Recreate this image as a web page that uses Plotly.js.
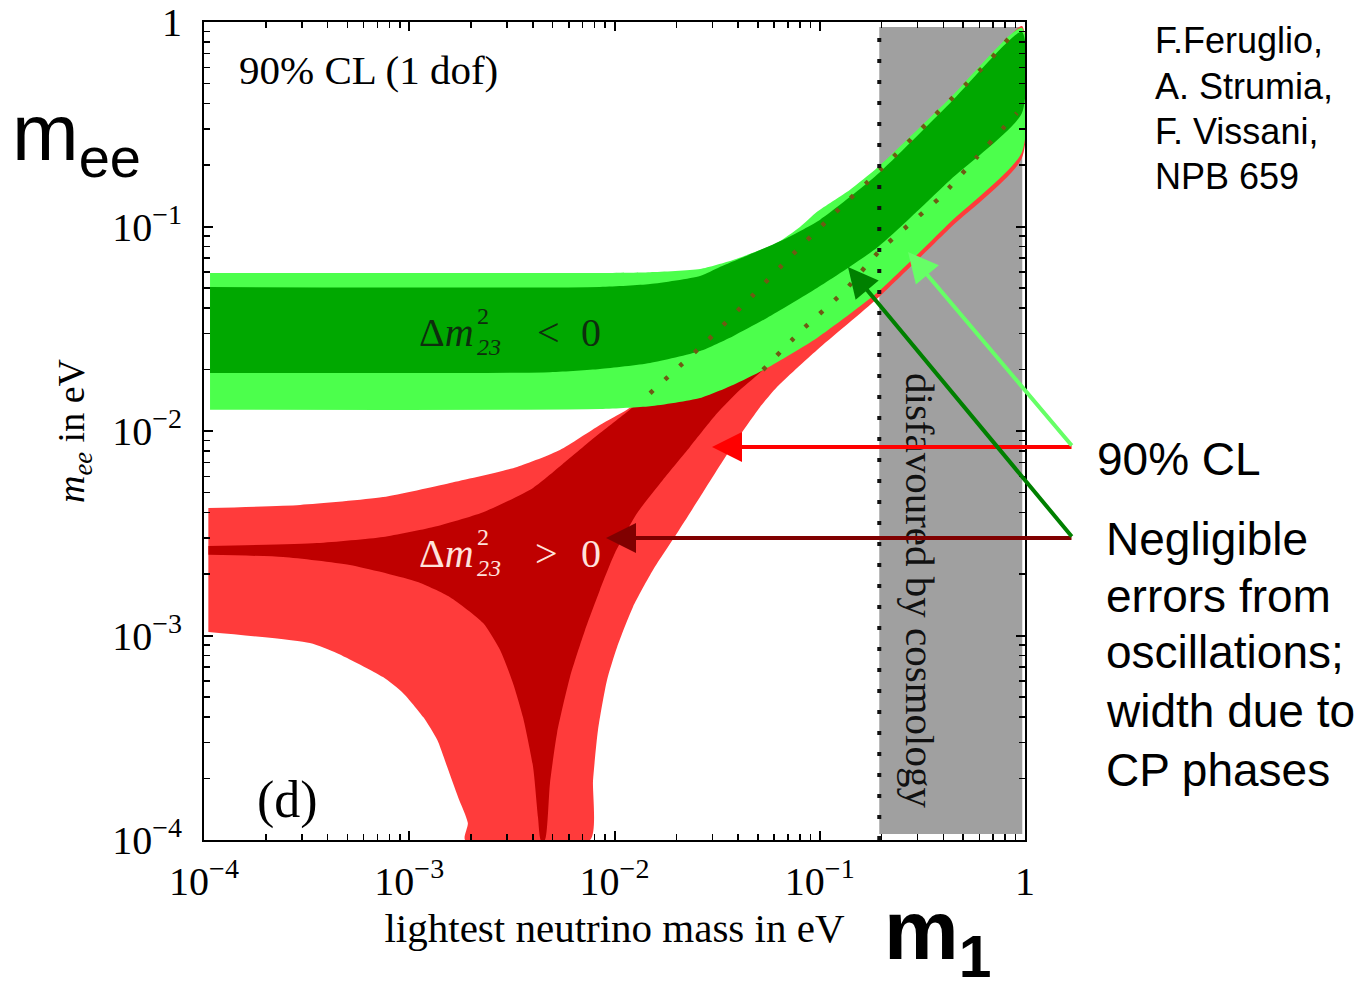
<!DOCTYPE html>
<html><head><meta charset="utf-8">
<script src="https://cdn.plot.ly/plotly-3.0.1.min.js"></script>
<style>html,body{margin:0;padding:0;background:#fff}#chart{width:1368px;height:991px}</style>
</head><body><div id="chart"></div>
<script>
// ---------------- data (values in eV) ----------------
// Inverted hierarchy (Δm²23 < 0): outer 90% CL band (light green)
const ihOuterUpX = [1.07e-4, 8.49e-3, 1.49e-2, 2.61e-2, 3.78e-2, 5.12e-2, 6.19e-2, 8.01e-2, 9.70e-2, 0.140, 0.190, 0.432, 0.966];
const ihOuterUp  = [0.0593, 0.0593, 0.0598, 0.0620, 0.0686, 0.0767, 0.0830, 0.0994, 0.118, 0.151, 0.193, 0.425, 0.935];
const ihOuterLoX = [1.07e-4, 8.49e-3, 1.49e-2, 2.61e-2, 3.78e-2, 5.53e-2, 9.70e-2, 0.192, 0.432, 0.966];
const ihOuterLo  = [0.0127, 0.0128, 0.0132, 0.0145, 0.0168, 0.0203, 0.0285, 0.0478, 0.105, 0.231];
// Inverted hierarchy: best-fit band, width from CP phases (dark green)
const ihInnerUpX = [1.07e-4, 8.49e-3, 1.49e-2, 2.61e-2, 3.26e-2, 4.73e-2, 6.92e-2, 0.1004, 0.190, 0.432, 0.966];
const ihInnerUp  = [0.0506, 0.0506, 0.0523, 0.0573, 0.0634, 0.0741, 0.0879, 0.108, 0.179, 0.402, 0.894];
const ihInnerLoX = [1.07e-4, 4.85e-3, 8.49e-3, 1.49e-2, 2.61e-2, 3.78e-2, 5.53e-2, 9.70e-2, 0.192, 0.432, 0.966];
const ihInnerLo  = [0.0192, 0.0194, 0.0201, 0.0215, 0.0246, 0.0291, 0.0357, 0.0500, 0.0794, 0.169, 0.359];

// Normal hierarchy (Δm²23 > 0): outer 90% CL region (light red)
const nhOuterUpX  = [1.05e-4, 2.94e-4, 7.45e-4, 1.58e-3, 3.35e-3, 5.42e-3, 8.49e-3, 1.15e-2, 1.49e-2, 3.02e-2, 4.73e-2, 7.16e-2, 0.116, 0.197, 0.357, 0.653, 0.966];
const nhOuterUp   = [0.00420, 0.00435, 0.00475, 0.00557, 0.00667, 0.00807, 0.0107, 0.0127, 0.0153, 0.0294, 0.0462, 0.0709, 0.114, 0.189, 0.343, 0.630, 0.956];
const nhOuterLoRX = [7.60e-3, 7.86e-3, 8.31e-3, 9.19e-3, 1.03e-2, 1.23e-2, 1.54e-2, 2.02e-2, 2.61e-2, 3.65e-2, 5.12e-2, 6.19e-2, 9.70e-2, 0.192, 0.432, 0.966];
const nhOuterLoR  = [1.0e-4, 1.96e-4, 3.45e-4, 6.05e-4, 8.79e-4, 1.38e-3, 2.09e-3, 3.17e-3, 4.75e-3, 8.07e-3, 1.31e-2, 1.64e-2, 2.49e-2, 4.47e-2, 9.84e-2, 0.216];
const nhOuterLoLX = [1.05e-4, 3.28e-4, 4.45e-4, 7.45e-4, 9.32e-4, 1.17e-3, 1.37e-3, 1.53e-3, 1.73e-3, 1.93e-3, 1.87e-3];
const nhOuterLoL  = [1.04e-3, 9.19e-4, 8.20e-4, 6.26e-4, 5.24e-4, 3.99e-4, 3.08e-4, 2.28e-4, 1.62e-4, 1.21e-4, 1.0e-4];
// Normal hierarchy: best-fit region (dark red)
const nhInnerUpX  = [1.05e-4, 3.55e-4, 7.45e-4, 1.31e-3, 2.29e-3, 4.01e-3, 5.74e-3, 8.04e-3, 1.15e-2, 1.49e-2, 3.02e-2, 4.73e-2, 7.16e-2, 0.116, 0.197, 0.357, 0.653, 0.966];
const nhInnerUp   = [0.00274, 0.00283, 0.00303, 0.00339, 0.00401, 0.00527, 0.00705, 0.00935, 0.0124, 0.0153, 0.0294, 0.0462, 0.0709, 0.114, 0.189, 0.343, 0.630, 0.914];
const nhInnerLoRX = [4.58e-3, 4.85e-3, 5.25e-3, 6.07e-3, 7.18e-3, 8.49e-3, 1.005e-2, 1.29e-2, 1.72e-2, 2.33e-2, 3.16e-2, 4.09e-2, 5.29e-2, 8.01e-2, 0.133, 0.197, 0.386, 0.584, 0.966];
const nhInnerLoR  = [1.0e-4, 1.90e-4, 3.34e-4, 6.26e-4, 1.06e-3, 1.67e-3, 2.53e-3, 3.97e-3, 5.76e-3, 8.35e-3, 1.22e-2, 1.59e-2, 1.99e-2, 3.05e-2, 4.89e-2, 7.67e-2, 0.139, 0.219, 0.359];
const nhInnerLoLX = [1.05e-4, 2.43e-4, 5.14e-4, 1.09e-3, 1.58e-3, 2.29e-3, 2.77e-3, 3.20e-3, 3.58e-3, 4.01e-3, 4.24e-3, 4.38e-3];
const nhInnerLoL  = [2.48e-3, 2.42e-3, 2.21e-3, 1.83e-3, 1.54e-3, 1.15e-3, 8.49e-4, 5.86e-4, 3.99e-4, 2.28e-4, 1.29e-4, 1.0e-4];
// Normal-hierarchy edges hidden under the green band (dotted)
const nhDotAX = [1.49e-2, 3.02e-2, 4.73e-2, 7.16e-2, 0.116, 0.197, 0.357, 0.653, 0.845];
const nhDotA  = [0.0153, 0.0294, 0.0462, 0.0709, 0.114, 0.189, 0.343, 0.630, 0.845];
const nhDotBX = [5.29e-2, 8.01e-2, 0.133, 0.197, 0.386, 0.584, 0.914];
const nhDotB  = [0.0199, 0.0305, 0.0489, 0.0767, 0.139, 0.219, 0.359];

// Region disfavoured by cosmology
const cosmoX = [0.195, 0.97];
const cosmoY = [1.07e-4, 0.946];
const cosmoBound = [0.195];

// Axis ticks
const majorTicks = [1e-4, 1e-3, 1e-2, 1e-1, 1];
const majorText  = ['10<sup>\u22124</sup>', '10<sup>\u22123</sup>', '10<sup>\u22122</sup>', '10<sup>\u22121</sup>', '1'];
const minorDigits = [2, 3, 4, 5, 6, 7, 8, 9];
const minorDecades = [1e-4, 1e-3, 1e-2, 1e-1];

// ---------------- helpers ----------------
const rev = a => a.slice().reverse();
const minorTicks = [];
minorDecades.forEach(d => minorDigits.forEach(k => minorTicks.push(k * d)));
const SMOOTH = {width: 0, shape: 'spline', smoothing: 0.6};

function band(upX, up, loX, lo, color) {
  return {x: upX.concat(rev(loX)), y: up.concat(rev(lo)), mode: 'lines', fill: 'toself',
          fillcolor: color, line: Object.assign({color: color}, SMOOTH), hoverinfo: 'skip', showlegend: false};
}
function region(upX, up, loRX, loR, loLX, loL, color) {
  return {x: upX.concat(rev(loRX), rev(loLX)), y: up.concat(rev(loR), rev(loL)), mode: 'lines',
          fill: 'toself', fillcolor: color, line: Object.assign({color: color}, SMOOTH), hoverinfo: 'skip', showlegend: false};
}

const traces = [
  {x: [cosmoX[0], cosmoX[1], cosmoX[1], cosmoX[0]], y: [cosmoY[0], cosmoY[0], cosmoY[1], cosmoY[1]],
   mode: 'lines', fill: 'toself', fillcolor: '#a0a0a0', line: {width: 0, color: '#a0a0a0'}, hoverinfo: 'skip', showlegend: false},
  region(nhOuterUpX, nhOuterUp, nhOuterLoRX, nhOuterLoR, nhOuterLoLX, nhOuterLoL, '#ff3b3b'),
  region(nhInnerUpX, nhInnerUp, nhInnerLoRX, nhInnerLoR, nhInnerLoLX, nhInnerLoL, '#bf0000'),
  band(ihOuterUpX, ihOuterUp, ihOuterLoX, ihOuterLo, '#4cff4c'),
  band(ihInnerUpX, ihInnerUp, ihInnerLoX, ihInnerLo, '#00a800'),
  {x: nhDotAX, y: nhDotA, mode: 'lines', line: {color: '#6e5a14', width: 4.5, dash: '4px,16px', shape: 'spline', smoothing: 0.6}, hoverinfo: 'skip', showlegend: false},
  {x: nhDotBX, y: nhDotB, mode: 'lines', line: {color: '#6e5a14', width: 4.5, dash: '4px,16px', shape: 'spline', smoothing: 0.6}, hoverinfo: 'skip', showlegend: false},
  {x: [cosmoBound[0], cosmoBound[0]], y: [1e-4, 1], mode: 'lines', line: {color: '#111', width: 4, dash: '4px,17px'}, hoverinfo: 'skip', showlegend: false}
];

// ---------------- layout ----------------
const SERIF = 'Liberation Serif, Times New Roman, serif';
const SANS = 'Liberation Sans, Arial, sans-serif';
const PL = 204, PR = 1025, PT = 22, PB = 840;
const px = x => (x - PL) / (PR - PL);
const py = y => (PB - y) / (PB - PT);

function txt(text, x, y, size, opts) {
  return Object.assign({text: text, x: px(x), y: py(y), xref: 'paper', yref: 'paper', showarrow: false,
    xanchor: 'left', yanchor: 'middle', font: {family: SERIF, size: size, color: '#000'}}, opts || {});
}
function arrow(hx, hy, tx, ty, color) {
  return {text: '', x: px(hx), y: py(hy), xref: 'paper', yref: 'paper', ax: tx - hx, ay: ty - hy,
    showarrow: true, arrowhead: 2, arrowsize: 1.5, arrowwidth: 4, arrowcolor: color, standoff: 0, startstandoff: 0};
}
const GREENTXT = '#0e2e0e', REDTXT = '#ffe2dc';

const annotations = [
  txt('90% CL (1 dof)', 237, 70, 41),
  txt('(d)', 255, 800, 52),
  // Δm²23 < 0
  txt('\u0394<i>m</i>', 476, 332, 40, {xanchor: 'right', font: {family: SERIF, size: 40, color: GREENTXT}}),
  txt('2<br><i>23</i>', 475, 331, 24, {align: 'left', font: {family: SERIF, size: 24, color: GREENTXT}}),
  txt('&lt;', 548, 332, 40, {xanchor: 'center', font: {family: SERIF, size: 40, color: GREENTXT}}),
  txt('0', 591, 332, 40, {xanchor: 'center', font: {family: SERIF, size: 40, color: GREENTXT}}),
  // Δm²23 > 0
  txt('\u0394<i>m</i>', 476, 553, 40, {xanchor: 'right', font: {family: SERIF, size: 40, color: REDTXT}}),
  txt('2<br><i>23</i>', 475, 552, 24, {align: 'left', font: {family: SERIF, size: 24, color: REDTXT}}),
  txt('&gt;', 546, 553, 40, {xanchor: 'center', font: {family: SERIF, size: 40, color: REDTXT}}),
  txt('0', 591, 553, 40, {xanchor: 'center', font: {family: SERIF, size: 40, color: REDTXT}}),
  // cosmology
  txt('disfavoured by cosmology', 920, 590, 41, {xanchor: 'center', textangle: 90, font: {family: SERIF, size: 41, color: '#111'}}),
  // arrows
  arrow(712, 447, 1073, 447, '#ff0000'),
  arrow(606, 538, 1073, 538, '#800000'),
  arrow(908, 252, 1073, 447, '#66ff66'),
  arrow(848, 267, 1073, 538, '#008000'),
  // right-hand notes
  txt('90% CL', 1095, 459, 46, {font: {family: SANS, size: 46, color: '#000'}}),
  txt('Negligible', 1104, 539, 46, {font: {family: SANS, size: 46, color: '#000'}}),
  txt('errors from', 1104, 596, 46, {font: {family: SANS, size: 46, color: '#000'}}),
  txt('oscillations;', 1104, 652, 46, {font: {family: SANS, size: 46, color: '#000'}}),
  txt('width due to', 1104, 711, 46, {font: {family: SANS, size: 46, color: '#000'}}),
  txt('CP phases', 1104, 770, 46, {font: {family: SANS, size: 46, color: '#000'}}),
  // reference
  txt('F.Feruglio,', 1153, 41, 36, {font: {family: SANS, size: 36, color: '#000'}}),
  txt('A. Strumia,', 1153, 86, 36, {font: {family: SANS, size: 36, color: '#000'}}),
  txt('F. Vissani,', 1153, 131, 36, {font: {family: SANS, size: 36, color: '#000'}}),
  txt('NPB 659', 1153, 176, 36, {font: {family: SANS, size: 36, color: '#000'}}),
  // big axis symbols
  txt('m<sub>ee</sub>', 10, 138, 80, {font: {family: SANS, size: 80, color: '#000'}}),
  txt('<b>m<sub>1</sub></b>', 882, 936, 84, {font: {family: SANS, size: 84, color: '#000'}})
];

const axisCommon = {
  type: 'log', range: [-4, 0], showgrid: false, zeroline: false, showline: true, linecolor: '#000', linewidth: 2,
  mirror: 'ticks', ticks: 'inside', ticklen: 9, tickwidth: 2, tickcolor: '#000',
  tickmode: 'array', tickvals: majorTicks, ticktext: majorText,
  tickfont: {family: SERIF, size: 40, color: '#000'},
  minor: {tickmode: 'array', tickvals: minorTicks, ticks: 'inside', ticklen: 6, tickwidth: 1.5, tickcolor: '#000', showgrid: false},
  automargin: false, fixedrange: true
};

const layout = {
  width: 1368, height: 991,
  margin: {l: PL, r: 1368 - PR, t: PT, b: 991 - PB, pad: 0},
  paper_bgcolor: '#ffffff', plot_bgcolor: '#ffffff',
  showlegend: false,
  xaxis: Object.assign({}, axisCommon, {ticklabelstandoff: 5,
    title: {text: 'lightest neutrino mass in eV', font: {family: SERIF, size: 41, color: '#000'}, standoff: 10}}),
  yaxis: Object.assign({}, axisCommon, {ticklabelstandoff: 12,
    title: {text: '<i>m</i><sub><i>ee</i></sub> in eV', font: {family: SERIF, size: 38, color: '#000'}, standoff: 16}}),
  annotations: annotations
};

Plotly.newPlot('chart', traces, layout, {staticPlot: true, displayModeBar: false});
</script></body></html>
